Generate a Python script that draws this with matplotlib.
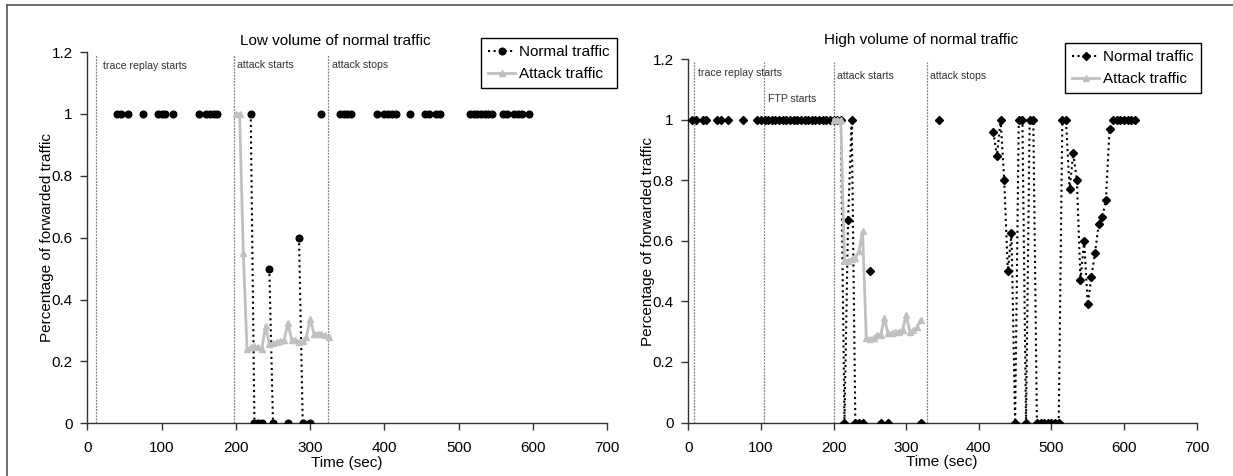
import numpy as np
import matplotlib
matplotlib.use('Agg')
import matplotlib.pyplot as plt
from matplotlib.lines import Line2D

plt.rcParams['font.family'] = ['Liberation Sans', 'DejaVu Sans']

# ---------------- data ----------------
# Low volume of normal traffic
low_normal_t = [40, 45, 55, 75, 95, 100, 105, 115, 150, 160, 165, 170, 175,
                220, 225, 230, 235, 245, 250, 270, 285, 290, 300, 315,
                340, 345, 350, 355, 390, 400, 405, 410, 415, 435, 455, 460,
                470, 475, 515, 520, 525, 530, 535, 540, 545, 560, 565, 575,
                580, 585, 595]
low_normal_v = [1, 1, 1, 1, 1, 1, 1, 1, 1, 1, 1, 1, 1,
                1, 0, 0, 0, 0.5, 0, 0, 0.6, 0, 0, 1,
                1, 1, 1, 1, 1, 1, 1, 1, 1, 1, 1, 1,
                1, 1, 1, 1, 1, 1, 1, 1, 1, 1, 1, 1,
                1, 1, 1]
low_attack_t = [200, 205, 210, 215, 220, 225, 230, 235, 240, 245, 250, 255, 260,
                265, 270, 275, 280, 285, 290, 295, 300, 305, 310, 315, 320, 325]
low_attack_v = [1.0, 1.0, 0.55, 0.24, 0.245, 0.25, 0.245, 0.24, 0.315, 0.255,
                0.26, 0.262, 0.265, 0.268, 0.325, 0.27, 0.27, 0.262, 0.265, 0.28,
                0.338, 0.29, 0.29, 0.288, 0.285, 0.28]

# High volume of normal traffic
high_normal_t = [5, 10, 20, 25, 40, 45, 55, 75,
                 95, 100, 105, 110, 115, 120, 125, 130, 135, 140, 145, 150,
                 155, 160, 165, 170, 175, 180, 185, 190, 195, 200, 205, 210,
                 215, 220, 225, 230, 235, 240, 250, 265, 275, 320, 345,
                 420, 425, 430, 435, 440, 445, 450, 455, 460, 465, 470, 475,
                 480, 485, 490, 495, 500, 505, 510, 515, 520, 525, 530, 535,
                 540, 545, 550, 555, 560, 565, 570, 575, 580, 585, 590, 595,
                 600, 605, 610, 615]
high_normal_v = [1, 1, 1, 1, 1, 1, 1, 1,
                 1, 1, 1, 1, 1, 1, 1, 1, 1, 1, 1, 1,
                 1, 1, 1, 1, 1, 1, 1, 1, 1, 1, 1, 1,
                 0, 0.67, 1, 0, 0, 0, 0.5, 0, 0, 0, 1,
                 0.96, 0.88, 1, 0.8, 0.5, 0.625, 0, 1, 1, 0, 1, 1,
                 0, 0, 0, 0, 0, 0, 0, 1, 1, 0.77, 0.89, 0.8,
                 0.47, 0.6, 0.39, 0.48, 0.56, 0.655, 0.68, 0.735, 0.97, 1, 1, 1,
                 1, 1, 1, 1]
high_attack_t = [200, 205, 210, 215, 220, 225, 230, 235, 240, 245, 250, 255, 260,
                 265, 270, 275, 280, 285, 290, 295, 300, 305, 310, 315, 320]
high_attack_v = [1.0, 1.0, 1.0, 0.535, 0.535, 0.54, 0.545, 0.565, 0.632, 0.28,
                 0.275, 0.28, 0.29, 0.29, 0.345, 0.295, 0.295, 0.3, 0.3, 0.305,
                 0.355, 0.3, 0.305, 0.315, 0.34]

x_ticks = [0, 100, 200, 300, 400, 500, 600, 700]
y_ticks = [0, 0.2, 0.4, 0.6, 0.8, 1, 1.2]
y_ticklabels = ['0', '0.2', '0.4', '0.6', '0.8', '1', '1.2']

low_events = [(12, 'trace replay starts', 21, 1.156),
              (198, 'attack starts', 202, 1.157),
              (324, 'attack stops', 329, 1.157)]
high_events = [(8, 'trace replay starts', 13.8, 1.156),
               (104, 'FTP starts', 109.6, 1.068),
               (200, 'attack starts', 204.5, 1.145),
               (328, 'attack stops', 333.4, 1.146)]

titles = ['Low volume of normal traffic', 'High volume of normal traffic']
ylabel = 'Percentage of forwarded traffic'
xlabel = 'Time (sec)'
legend_labels = ['Normal traffic', 'Attack traffic']


def with_gaps(t, v, step=5):
    """Break the line where samples are missing (like Excel gaps)."""
    tt, vv = [], []
    for i, (ti, vi) in enumerate(zip(t, v)):
        if i > 0 and ti - t[i - 1] > step:
            tt.append(np.nan)
            vv.append(np.nan)
        tt.append(ti)
        vv.append(vi)
    return np.array(tt, float), np.array(vv, float)


W, H = 1233, 476
fig = plt.figure(figsize=(W / 100, H / 100), dpi=100)


def px_axes(x0, x1, y0, y1):
    return [x0 / W, 1 - y1 / H, (x1 - x0) / W, (y1 - y0) / H]


axL = fig.add_axes(px_axes(87.3, 607.3, 52, 423.3))
axR = fig.add_axes(px_axes(688.3, 1196.7, 59.3, 422.5))

ATT = '#c0c0c0'
AX = '#333333'


def style(ax):
    ax.set_xlim(0, 700)
    ax.set_ylim(0, 1.2)
    ax.set_xticks(x_ticks)
    ax.set_xticklabels([str(v) for v in x_ticks])
    ax.set_yticks(y_ticks)
    ax.set_yticklabels(y_ticklabels)
    for s in ['top', 'right']:
        ax.spines[s].set_visible(False)
    for s in ['left', 'bottom']:
        ax.spines[s].set_color(AX)
        ax.spines[s].set_linewidth(1.0)
    ax.tick_params(axis='both', direction='out', length=5, width=1.0,
                   color=AX, labelsize=11, labelcolor='black')
    ax.tick_params(axis='x', pad=8)
    ax.tick_params(axis='y', pad=5.5)


def events(ax, ev):
    for x, lab, tx, ty in ev:
        ax.plot([x, x], [0, 1.19], color='#808080', lw=0.9,
                ls=(0, (1.5, 1.0)), zorder=1)
        ax.text(tx, ty, lab, fontsize=7.6, color='#333333', va='center',
                ha='left')


# Left panel
style(axL)
events(axL, low_events)
t, v = with_gaps(low_normal_t, low_normal_v)
axL.plot(t, v, color='black', ls=':', lw=1.5, marker='o', ms=4.8, zorder=3)
axL.plot(low_attack_t, low_attack_v, color=ATT, lw=2, marker='^', ms=5,
         zorder=4)

# Right panel
style(axR)
events(axR, high_events)
t, v = with_gaps(high_normal_t, high_normal_v)
axR.plot(t, v, color='black', ls=':', lw=1.5, marker='D', ms=4.2, zorder=3)
axR.plot(high_attack_t, high_attack_v, color=ATT, lw=2, marker='^', ms=5,
         zorder=4)

# Titles, axis labels
fig.text(335 / W, 1 - 45 / H, titles[0], fontsize=11, ha='center',
         va='baseline')
fig.text(921 / W, 1 - 44 / H, titles[1], fontsize=11, ha='center',
         va='baseline')
fig.text(47 / W, 1 - 237.7 / H, ylabel, fontsize=11, rotation=90,
         ha='center', va='center')
fig.text(648 / W, 1 - 241 / H, ylabel, fontsize=11, rotation=90,
         ha='center', va='center')
fig.text(347 / W, 1 - 463 / H, xlabel, fontsize=11, ha='center', va='center')
fig.text(942 / W, 1 - 462 / H, xlabel, fontsize=11, ha='center', va='center')


# Legends
def add_legend(ax, marker, ms, x0, y0):
    h = [Line2D([], [], color='black', ls=':', lw=1.5, marker=marker, ms=ms),
         Line2D([], [], color=ATT, lw=2, marker='^', ms=5)]
    leg = ax.legend(h, legend_labels, loc='upper left',
                    bbox_to_anchor=(x0 / W, 1 - y0 / H),
                    bbox_transform=fig.transFigure, fontsize=11,
                    frameon=True, fancybox=False, framealpha=1,
                    edgecolor='black', borderpad=0.45, handlelength=1.8,
                    handletextpad=0.25, labelspacing=0.55, borderaxespad=0)
    leg.get_frame().set_linewidth(1.0)
    leg.set_zorder(10)


add_legend(axL, 'o', 4.8, 481, 38)
add_legend(axR, 'D', 4.2, 1065, 43)

# Outer frame
fig.add_artist(Line2D([7 / W, 7 / W], [0, 1 - 5 / H], color='#555555',
                      lw=1.2, transform=fig.transFigure))
fig.add_artist(Line2D([7 / W, 1], [1 - 5 / H, 1 - 5 / H], color='#555555',
                      lw=1.2, transform=fig.transFigure))

fig.savefig('out.png', dpi=100)
